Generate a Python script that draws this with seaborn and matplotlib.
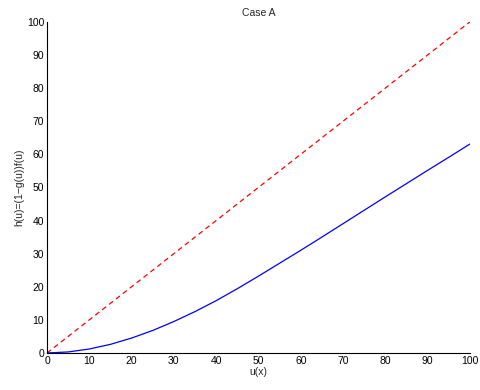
import pandas as pd
import numpy as np
import matplotlib
matplotlib.use('Agg')
import matplotlib.pyplot as plt
import seaborn as sns

u_vals = [0, 5, 10, 15, 20, 25, 30, 35, 40, 45, 50, 55, 60, 65, 70, 75, 80, 85, 90, 95, 100]
h_vals = [0, 0.3, 1.2, 2.6, 4.5, 6.8, 9.5, 12.5, 15.8, 19.4, 23.2, 27.1, 31.0, 35.0,
          39.05, 43.1, 47.15, 51.15, 55.15, 59.1, 63.1]
ref_u = [0, 100]
ref_h = [0, 100]

sns.set_style('white')
plt.rcParams['font.family'] = ['Liberation Sans', 'DejaVu Sans']
plt.rcParams['font.size'] = 7.5

fig = plt.figure(figsize=(4.8, 3.9), dpi=100)
ax = fig.add_axes([0.098, 0.095, 0.881, 0.849])

sns.lineplot(x=ref_u, y=ref_h, ax=ax, color='red', linestyle=(0, (4, 3)), linewidth=0.9)
sns.lineplot(x=u_vals, y=h_vals, ax=ax, color='blue', linewidth=0.9)

ax.set_xlim(0, 100)
ax.set_ylim(0, 100)
ax.set_xticks(range(0, 101, 10))
ax.set_yticks(range(0, 101, 10))
ax.tick_params(direction='in', length=3, width=0.6, colors='black', labelsize=7.5, pad=2)
for s in ['top', 'right']:
    ax.spines[s].set_visible(False)
for s in ['left', 'bottom']:
    ax.spines[s].set_linewidth(0.8)
    ax.spines[s].set_color('black')
ax.set_xlabel('u(x)', fontsize=7.5, labelpad=1)
ax.set_ylabel('h(u)=(1\u2212g(u))f(u)', fontsize=7.5, labelpad=2)
ax.set_title('Case A', fontsize=7.5, pad=4)

plt.savefig('out.png', dpi=100)
plt.close()
